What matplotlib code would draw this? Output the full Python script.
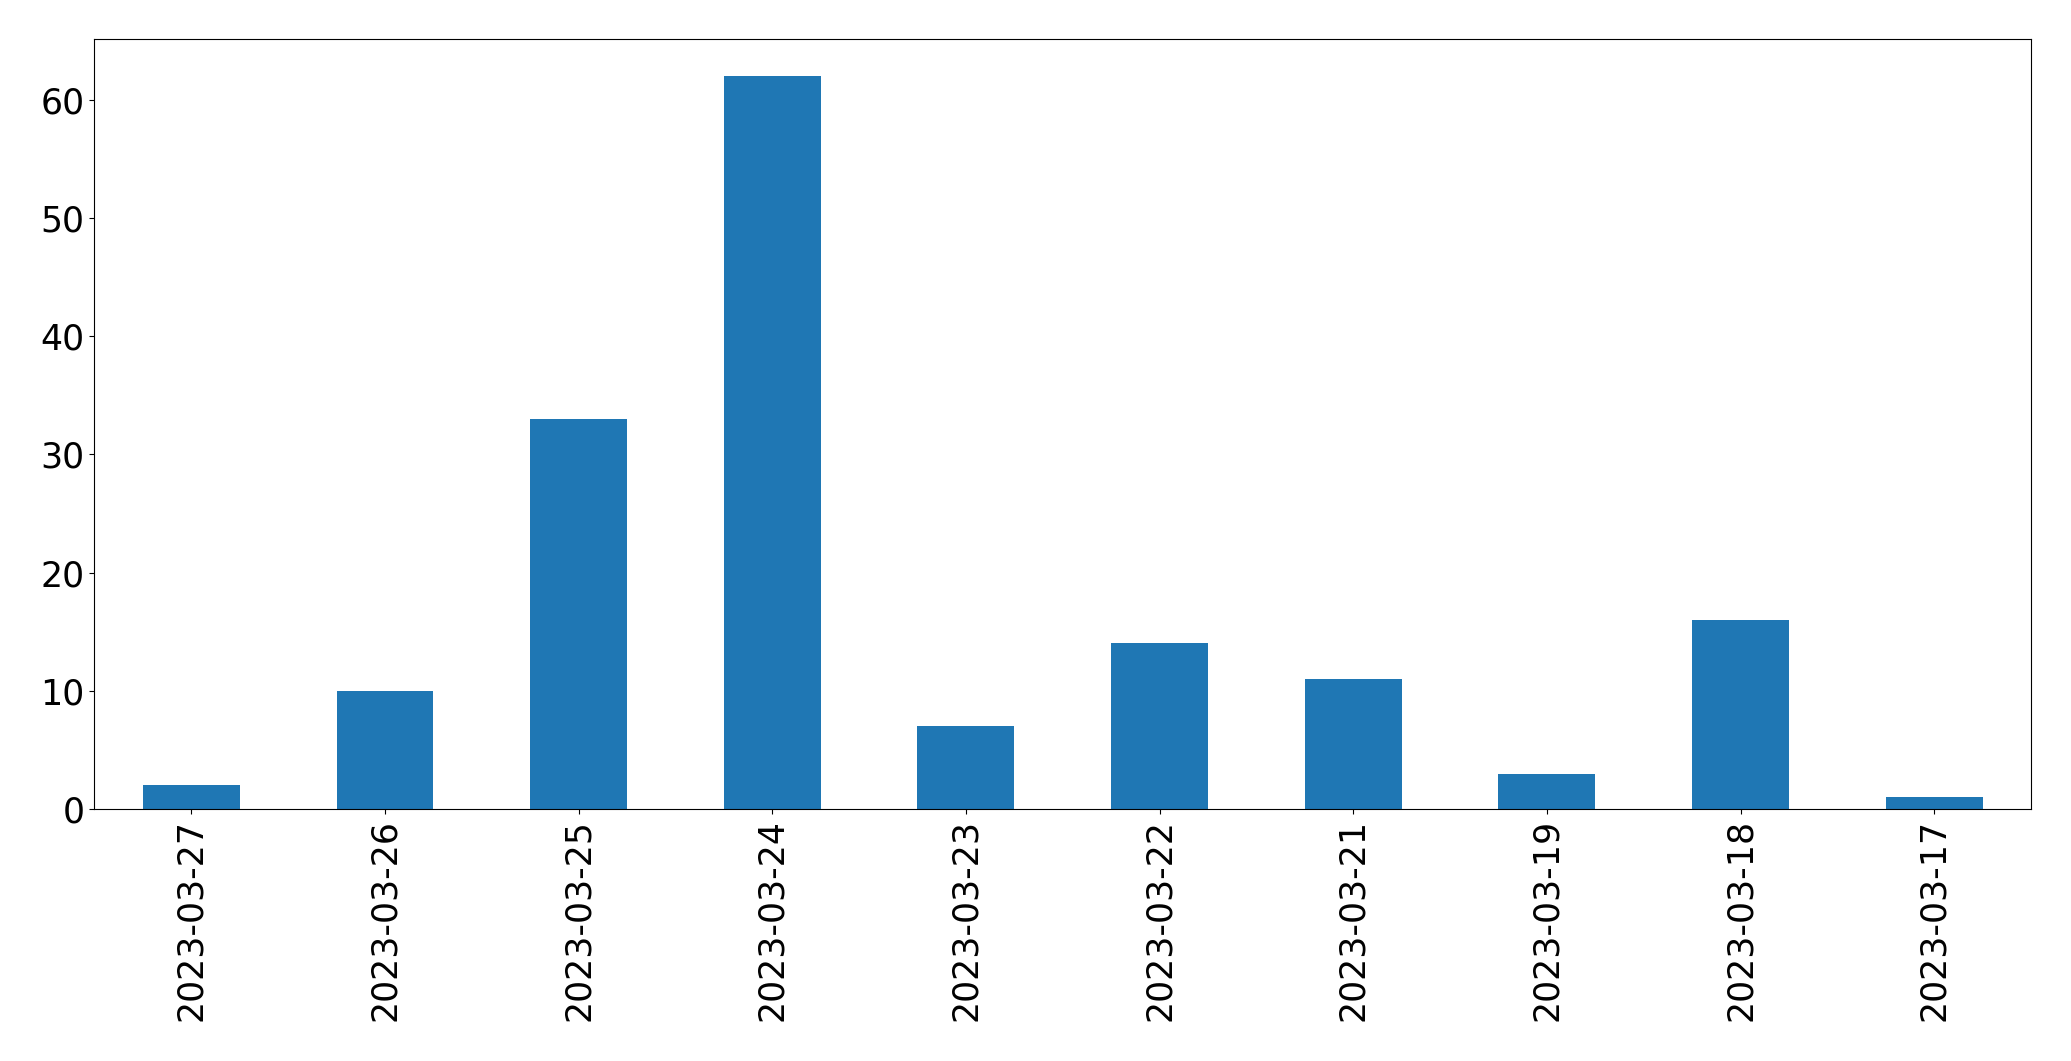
import matplotlib
matplotlib.use("Agg")
import matplotlib.pyplot as plt
import pandas as pd

dates = ["2023-03-27", "2023-03-26", "2023-03-25", "2023-03-24", "2023-03-23",
         "2023-03-22", "2023-03-21", "2023-03-19", "2023-03-18", "2023-03-17"]
counts = [2, 10, 33, 62, 7, 14, 11, 3, 16, 1]

s = pd.Series(counts, index=dates)

fig = plt.figure(figsize=(20.71, 10.61), dpi=100)
ax = fig.add_subplot(111)
s.plot(kind="bar", ax=ax, fontsize=25)
fig.subplots_adjust(left=0.0456, right=0.9807, top=0.963, bottom=0.2375)
fig.savefig("out.png", dpi=100)
